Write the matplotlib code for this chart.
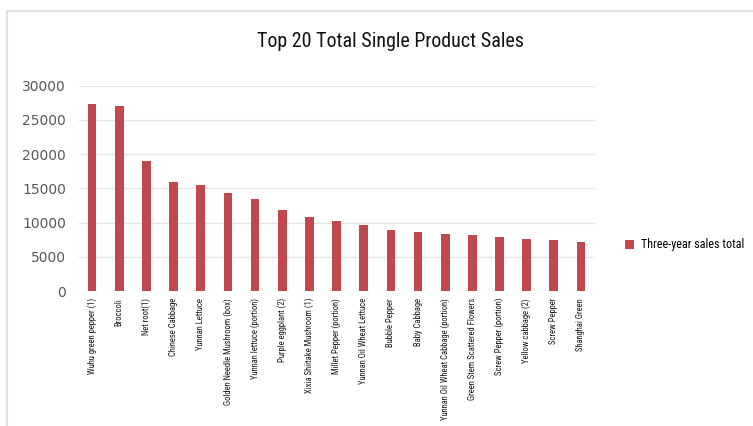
import matplotlib
matplotlib.use("Agg")
import matplotlib.pyplot as plt
from matplotlib.lines import Line2D

products = [
    "Wuhu green pepper (1)", "Broccoli", "Net root(1)", "Chinese Cabbage",
    "Yunnan Lettuce", "Golden Needle Mushroom (box)", "Yunnan lettuce (portion)",
    "Purple eggplant (2)", "Xixia Shiitake Mushroom (1)", "Millet Pepper (portion)",
    "Yunnan Oil Wheat Lettuce", "Bubble Pepper", "Baby Cabbage",
    "Yunnan Oil Wheat Cabbage (portion)", "Green Stem Scattered Flowers",
    "Screw Pepper (portion)", "Yellow cabbage (2)", "Screw Pepper", "Shanghai Green",
]
sales_total = [
    27400, 27100, 19000, 15900, 15500, 14300, 13400, 11850, 10800, 10280,
    9590, 8860, 8670, 8380, 8180, 7840, 7650, 7450, 7110,
]
y_ticks = [0, 5000, 10000, 15000, 20000, 25000, 30000]

narrow = ["Roboto Condensed", "DejaVu Sans"]

fig = plt.figure(figsize=(7.53, 4.26), dpi=100)
ax = fig.add_axes([0.1043, 0.3169, 0.6853, 0.4819])

x = range(len(products))
ax.bar(x, sales_total, width=0.32, color="#c0484f", label="Three-year sales total", zorder=3)

ax.set_xlim(-0.5, len(products) - 0.5)
ax.set_ylim(0, 30000)
ax.set_yticks(y_ticks)
ax.set_yticklabels([str(v) for v in y_ticks], fontsize=10, color="#595959")
ax.set_xticks(list(x))
ax.set_xticklabels(products, rotation=90, fontsize=6.2, family=narrow,
                   fontstretch="condensed", color="#1a1a1a")
ax.tick_params(axis="both", length=0)
ax.tick_params(axis="y", pad=9)
ax.tick_params(axis="x", pad=5)

ax.grid(axis="y", color="#e6e6e6", linewidth=1, zorder=0)
for side in ["top", "right", "left", "bottom"]:
    ax.spines[side].set_visible(False)

fig.text(0.518, 0.902, "Top 20 Total Single Product Sales", ha="center", va="center",
         fontsize=14.4, family=narrow, fontstretch="condensed", color="#111111")

fig.legend(loc="center left", bbox_to_anchor=(0.815, 0.425), frameon=False,
           prop={"family": narrow, "size": 8.7, "stretch": "condensed"},
           handlelength=0.8, handleheight=0.8, handletextpad=0.6)

# light frame along the top and left edges
fig.add_artist(Line2D([0.009, 1.0], [0.974, 0.974], color="#e2e2e2", linewidth=1.5))
fig.add_artist(Line2D([0.009, 0.009], [0.0, 0.974], color="#e2e2e2", linewidth=1.5))

fig.savefig("out.png", dpi=100, facecolor="white")
